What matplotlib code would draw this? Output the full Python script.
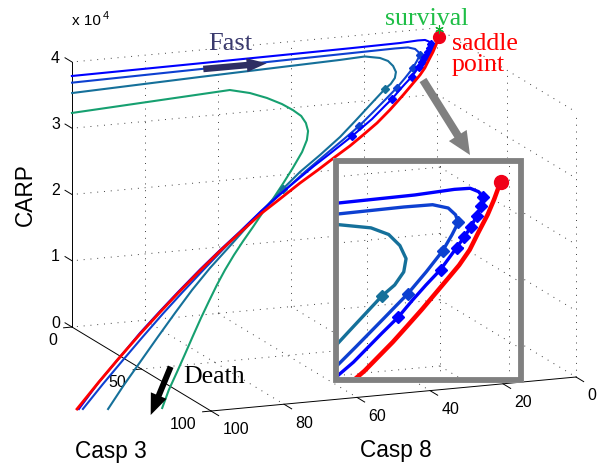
import matplotlib
matplotlib.use('Agg')
import matplotlib.pyplot as plt
from matplotlib.patches import Rectangle, FancyArrow
from matplotlib.transforms import IdentityTransform
from mpl_toolkits.mplot3d import proj3d

W, H = 605, 465   # output size in pixels

# trajectories: Casp 8, Casp 3, CARP
red_c8 = [1.0, 2.6, 4.1, 6.0, 7.9, 9.9, 11.9, 14.2, 16.5, 19.2, 21.6, 26.4, 31.4, 36.1,
          41.3, 47.2, 53.4, 60.5, 66.8, 74.7, 82.0, 89.4, 97.6, 104.4, 112.1, 120.6, 128.4, 136.7]
red_c3 = [4.0, 6.1, 7.9, 9.9, 12.0, 13.8, 15.4, 17.2, 19.0, 21.0, 22.8, 26.2, 29.3, 32.1,
          35.0, 38.3, 41.7, 45.8, 49.4, 54.5, 59.2, 64.3, 70.1, 75.0, 80.7, 87.2, 93.3, 100.0]
red_carp = [39200, 38340, 37590, 36740, 35890, 35170, 34560, 33850, 33140, 32330, 31630, 30340,
            29180, 28110, 27080, 25850, 24630, 23100, 21770, 19870, 18060, 16130, 13910, 12000,
            9790, 7250, 4830, 2190]

blue1_c8 = [105.4, 69.0, 26.5, 12.3, 7.1, 5.1, 4.2, 3.9, 4.5, 5.5, 6.7, 8.0, 9.4, 12.4, 14.9,
            17.3, 19.8, 22.6, 27.4, 34.5, 42.0, 47.9, 53.9, 60.7, 66.8, 74.6, 81.9, 89.3, 97.5,
            104.3, 112.0, 120.2, 128.1, 136.2]
blue1_c3 = [14.1, 10.8, 6.9, 5.6, 4.9, 4.8, 5.2, 5.8, 6.8, 8.0, 9.3, 10.5, 11.7, 14.3, 16.1,
            17.9, 19.9, 21.8, 25.2, 29.6, 33.9, 37.3, 40.9, 45.0, 48.9, 54.2, 59.0, 64.0, 69.8,
            74.7, 80.4, 86.9, 93.1, 100.0]
blue1_carp = [39950, 39580, 39170, 39070, 39100, 39060, 38830, 38520, 38080, 37600, 37070, 36600,
              36090, 35060, 34360, 33650, 32890, 32150, 30860, 29220, 27590, 26360, 25010, 23470,
              22010, 19990, 18170, 16250, 14020, 12110, 9900, 7350, 4930, 2160]
blue1_marks = [7, 8, 9, 10, 11, 12, 13, 16, 19]

blue2_c8 = [106.0, 69.6, 27.0, 14.2, 10.5, 8.7, 8.1, 8.1, 9.4, 11.3, 14.3, 17.6, 21.6, 26.4,
            31.6, 37.0, 43.4, 50.6, 58.2, 65.8, 73.2, 81.0, 88.9, 96.5, 103.8, 111.5, 119.7,
            127.2, 135.1]
blue2_c3 = [15.8, 12.3, 8.2, 7.0, 6.7, 7.1, 7.9, 8.8, 10.2, 12.1, 14.6, 17.2, 20.0, 23.4, 27.0,
            30.3, 34.2, 38.6, 43.5, 48.4, 53.4, 58.8, 64.5, 70.0, 75.4, 81.3, 87.7, 93.6, 100.0]
blue2_carp = [39190, 38920, 38610, 38520, 38450, 38180, 37790, 37380, 36790, 36010, 35040, 34030,
              32930, 31640, 30250, 28990, 27550, 25910, 24050, 22190, 20290, 18200, 16030, 13880,
              11770, 9470, 6970, 4640, 2110]
blue2_marks = [7, 9, 11, 14]

teal_c8 = [107.0, 70.4, 30.4, 23.2, 19.2, 17.3, 16.4, 16.2, 17.1, 18.8, 20.9, 26.6, 32.2, 37.9,
           45.2, 52.3, 58.7, 66.6, 73.0, 79.5, 86.4, 93.5, 100.4, 107.5, 114.5, 121.5, 128.2]
teal_c3 = [18.5, 14.3, 9.9, 9.0, 9.4, 10.2, 11.5, 13.0, 14.6, 16.1, 17.4, 21.6, 25.7, 29.8,
           34.5, 38.8, 43.2, 48.9, 53.6, 58.5, 63.6, 69.3, 75.2, 81.4, 87.6, 93.8, 100.0]
teal_carp = [38020, 38030, 37990, 38030, 37650, 37200, 36560, 35840, 35180, 34560, 34070, 32470,
             30870, 29280, 27520, 25880, 24190, 22000, 20200, 18290, 16280, 14040, 11680, 9200,
             6720, 4250, 1750]
teal_marks = [10, 16]

green_c8 = [109.0, 63.5, 58.3, 54.1, 50.6, 48.2, 46.5, 45.9, 46.1, 47.3, 49.8, 53.9, 58.2, 62.4,
            66.4, 70.6, 74.7, 78.6, 82.5, 86.2, 89.9, 93.8, 97.8, 101.7, 105.7, 109.7, 113.3]
green_c3 = [23.6, 17.7, 18.5, 19.7, 21.3, 22.8, 24.4, 26.2, 28.3, 30.6, 33.7, 37.8, 41.9, 45.8,
            49.2, 53.0, 56.7, 60.3, 64.1, 68.0, 72.1, 76.5, 81.2, 85.8, 90.5, 95.1, 99.8]
green_carp = [35760, 36140, 35520, 34710, 33820, 32990, 32200, 31340, 30400, 29400, 28110, 26430,
              24760, 23200, 21870, 20310, 18870, 17410, 15840, 14260, 12560, 10740, 8820, 6900,
              4970, 3050, 1110]

saddle = [1.0, 4.0, 39200]
survival = [0.2, 1.9, 40100]

c8_ticks = [0, 20, 40, 60, 80, 100]
c3_ticks = [0, 50, 100]
carp_ticks = [0, 10000, 20000, 30000, 40000]
carp_labels = ['0', '1', '2', '3', '4']

# grid of the zoomed inset
inset_grid_c8 = [7.05, 16.1, 25.2, 34.3, 43.4, 52.5]
inset_grid_c3 = [22.7, 45.5]
inset_grid_z = [40000, 35450, 30910, 26360, 21820, 17270]

plt.rcParams['font.family'] = ['Liberation Sans', 'DejaVu Sans']
SERIF = ['Liberation Serif', 'DejaVu Serif']

ELEV, AZIM = 13.725, 68.56
BOX = (392.1, 380.3, 272.8)
ZOOM = 1.2748
MAG = 2.2
MAIN_LEFT, MAIN_BOTTOM = 85.22, 6.72      # pixels
INSET_SHIFT = (61.7, -144.7)              # pixels

fig = plt.figure(figsize=(W / 100, H / 100), dpi=100)
ident = IdentityTransform()


def px(x, y):
    # image pixel (top-left origin) -> figure fraction
    return x / W, 1 - y / H


def make_ax(left, bottom, zorder):
    ax = fig.add_axes([left / W, bottom / H, H / W, 1.0], projection='3d',
                      computed_zorder=False)
    ax.set_zorder(zorder)
    ax.set_proj_type('ortho')
    ax.view_init(elev=ELEV, azim=AZIM)
    ax.set_box_aspect(BOX, zoom=ZOOM)
    ax.set_axis_off()
    ax.patch.set_visible(False)
    return ax


def label3d(ax, x, y, z, s, **kw):
    # plain 2D text placed at the projection of a 3D point
    x2, y2, _ = proj3d.proj_transform(x, y, z, ax.get_proj())
    ax.text2D(x2, y2, s, transform=ax.transData, clip_on=False, **kw)


traj = [
    (green_c8, green_c3, green_carp, '#16A070', None),
    (teal_c8, teal_c3, teal_carp, '#15709A', teal_marks),
    (blue2_c8, blue2_c3, blue2_carp, '#0D40D1', blue2_marks),
    (blue1_c8, blue1_c3, blue1_carp, '#0000FF', blue1_marks),
]


def draw_traj(ax, lw, ms, dot, clip_on):
    arts = []
    for i, (c8, c3, carp, col, marks) in enumerate(traj):
        kw = dict(color=col, lw=lw, zorder=3 + i, solid_joinstyle='round', clip_on=clip_on)
        if marks:
            kw.update(marker='D', ms=ms, markevery=marks, mec=col, mfc=col)
        arts += ax.plot(c8, c3, carp, **kw)
    arts += ax.plot(red_c8, red_c3, red_carp, color='#FF0000', lw=lw * 1.35, zorder=8,
                    solid_joinstyle='round', clip_on=clip_on)
    arts += ax.plot([saddle[0]], [saddle[1]], [saddle[2]], 'o', color='#F00018', ms=dot,
                    zorder=9, clip_on=clip_on)
    return arts


grid_kw = dict(color='#404040', lw=0.7, ls=(0, (1, 6)), zorder=1)

# ---------------- main view ----------------
ax = make_ax(MAIN_LEFT, MAIN_BOTTOM, 0)
ax.set_xlim(0, 100)
ax.set_ylim(0, 100)
ax.set_zlim(0, 40000)

for t in c8_ticks[:-1]:
    ax.plot([t, t], [0, 0], [0, 40000], clip_on=False, **grid_kw)
    if t > 0:
        ax.plot([t, t], [0, 100], [0, 0], clip_on=False, **grid_kw)
for s in c3_ticks[1:]:
    ax.plot([0, 0], [s, s], [0, 40000], clip_on=False, **grid_kw)
ax.plot([0, 100], [50, 50], [0, 0], clip_on=False, **grid_kw)
for z in carp_ticks:
    ax.plot([0, 100], [0, 0], [z, z], clip_on=False, **grid_kw)
    ax.plot([0, 0], [0, 100], [z, z], clip_on=False, **grid_kw)

axis_kw = dict(color='black', lw=0.7, zorder=2, clip_on=False)
ax.plot([100, 100], [0, 0], [0, 40000], **axis_kw)
ax.plot([100, 100], [0, 100], [0, 0], **axis_kw)
ax.plot([0, 100], [100, 100], [0, 0], **axis_kw)
for z, lab in zip(carp_ticks, carp_labels):
    ax.plot([100, 100], [0, -5], [z, z], **axis_kw)
    label3d(ax, 100, -8.6, z - 500, lab, ha='right', va='center', fontsize=11.5)
for s in c3_ticks:
    ax.plot([100, 102.3], [s, s], [0, 0], **axis_kw)
    label3d(ax, 104.1, s, -1750, str(s), ha='right', va='center', fontsize=11.5)
for t in c8_ticks:
    ax.plot([t, t], [100, 105.5], [0, 0], **axis_kw)
    label3d(ax, t, 108.3, -1800, str(t), ha='left', va='center', fontsize=11.5)

draw_traj(ax, 1.5, 4.2, 8.5, False)
ax.plot([survival[0]], [survival[1]], [survival[2]], marker=(6, 2, 0), color='#10B030',
        ms=6, mew=0.8, ls='none', zorder=10, clip_on=False)

# ---------------- zoomed inset ----------------
fig.add_artist(Rectangle((333, 82), 191, 225, transform=ident, facecolor='white',
                         edgecolor='none', zorder=1))
axi = make_ax(MAIN_LEFT + INSET_SHIFT[0], MAIN_BOTTOM + INSET_SHIFT[1], 2)
axi.set_xlim(saddle[0] - saddle[0] / MAG, saddle[0] + (100 - saddle[0]) / MAG)
axi.set_ylim(saddle[1] - saddle[1] / MAG, saddle[1] + (100 - saddle[1]) / MAG)
axi.set_zlim(saddle[2] - saddle[2] / MAG, saddle[2] + (40000 - saddle[2]) / MAG)

clip = Rectangle((338.3, 88.3), 180, 213.4, transform=ident)
inset_arts = []
c8w = inset_grid_c8[0]
for t in inset_grid_c8:
    inset_arts += axi.plot([t, t], [0, 0], [10000, 46000], **grid_kw)
for s in inset_grid_c3:
    inset_arts += axi.plot([c8w, c8w], [s, s], [10000, 46000], **grid_kw)
for z in inset_grid_z:
    inset_arts += axi.plot([c8w, 60], [0, 0], [z, z], **grid_kw)
    inset_arts += axi.plot([c8w, c8w], [0, 60], [z, z], **grid_kw)
inset_arts += draw_traj(axi, 2.4, 6.0, 10, True)
for a in inset_arts:
    a.set_clip_path(clip)

fig.add_artist(Rectangle((335.5, 85.3), 185.8, 219.2, transform=ident, fill=False,
                         edgecolor='#808080', lw=4.2, zorder=3))

# ---------------- arrows and annotations ----------------
fig.add_artist(FancyArrow(203.3, H - 69, 63.4, 5.7, width=6.5, head_width=14,
                          head_length=20, length_includes_head=True, transform=ident,
                          color='#2E2E62', lw=0, zorder=4))
fig.add_artist(FancyArrow(170.7, H - 366.7, -20, -48.3, width=6, head_width=17,
                          head_length=21, length_includes_head=True, transform=ident,
                          color='black', lw=0, zorder=4))
fig.add_artist(FancyArrow(423, H - 80, 47, -75, width=8, head_width=21,
                          head_length=23, length_includes_head=True, transform=ident,
                          color='#808080', lw=0, zorder=4))

fig.text(*px(208, 50), 'Fast', family=SERIF, fontsize=19, color='#3B3B6E', zorder=5)
fig.text(*px(385, 25), 'survival', family=SERIF, fontsize=18.6, color='#1EBE46', zorder=5)
fig.text(*px(452, 50), 'saddle', family=SERIF, fontsize=18.6, color='#FF0000', zorder=5)
fig.text(*px(452, 71), 'point', family=SERIF, fontsize=18.6, color='#FF0000', zorder=5)
fig.text(*px(183, 383), 'Death', family=SERIF, fontsize=18.6, color='black', zorder=5)

fig.text(*px(25, 195), 'CARP', rotation=90, ha='center', va='center', fontsize=16.3)
fig.text(*px(75, 458), 'Casp 3', fontsize=16.3)
fig.text(*px(360, 457), 'Casp 8', fontsize=16.3)
fig.text(*px(72, 25), 'x 10', fontsize=11)
fig.text(*px(103, 19), '4', fontsize=8)

fig.savefig('out.png', dpi=100, facecolor='white')
